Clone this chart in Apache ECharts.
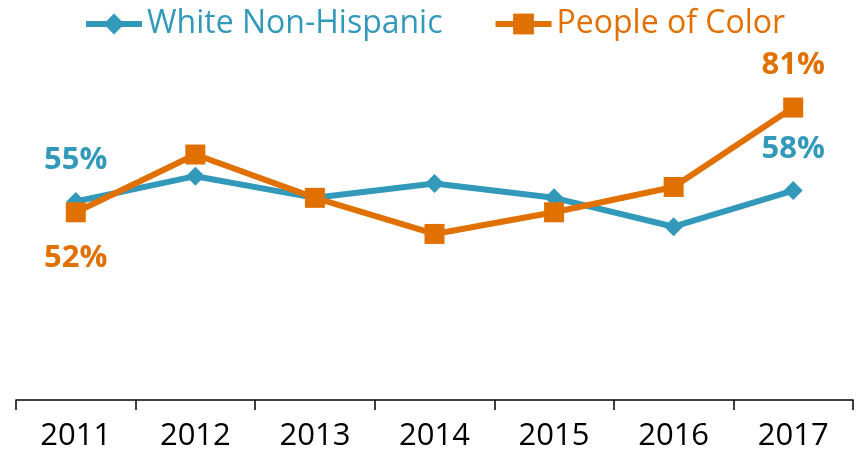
<!DOCTYPE html>
<html>
<head>
<meta charset="utf-8">
<style>
  html, body { margin: 0; padding: 0; background: #ffffff; }
  #chart { width: 856px; height: 464px; }
</style>
<script src="https://cdn.jsdelivr.net/npm/echarts@6/dist/echarts.min.js"></script>
</head>
<body>
<div id="chart"></div>
<script>
// Share of respondents by year, in percent
var years = ['2011', '2012', '2013', '2014', '2015', '2016', '2017'];
var whiteNonHispanic = [55, 62, 56, 60, 56, 48, 58];
var peopleOfColor = [52, 68, 56, 46, 52, 59, 81];

var TEAL = '#3399BA';
var ORANGE = '#E07000';
var FONT = '"Open Sans", "Noto Sans", sans-serif';

// Only the first and last point of each line carry a value label
function withEndLabels(values, color, firstPos, firstDist, lastPos, lastDist) {
  return values.map(function (v, i) {
    if (i !== 0 && i !== values.length - 1) return v;
    var first = i === 0;
    return {
      value: v,
      label: {
        show: true,
        position: first ? firstPos : lastPos,
        distance: first ? firstDist : lastDist,
        formatter: '{c}%',
        color: color,
        fontFamily: FONT,
        fontWeight: 'bold',
        fontSize: 31,
        lineHeight: 30
      }
    };
  });
}

var chart = echarts.init(document.getElementById('chart'));
chart.setOption({
  animation: false,
  backgroundColor: '#ffffff',
  legend: {
    top: 3,
    left: 78,
    itemWidth: 56,
    itemHeight: 26,
    itemGap: 50,
    lineStyle: { width: 6 },
    textStyle: { fontFamily: FONT, fontSize: 32 },
    data: [
      { name: 'White Non-Hispanic', textStyle: { color: TEAL } },
      { name: 'People of Color', textStyle: { color: ORANGE } }
    ]
  },
  grid: { left: 16, right: 3, top: 39, bottom: 64 },
  xAxis: {
    type: 'category',
    data: years,
    boundaryGap: true,
    axisLine: { lineStyle: { color: '#000000', width: 1.5 } },
    axisTick: { show: true, length: 10, lineStyle: { color: '#000000', width: 1.5 } },
    axisLabel: {
      color: '#000000',
      fontFamily: FONT,
      fontSize: 31,
      margin: 21
    },
    splitLine: { show: false }
  },
  yAxis: {
    type: 'value',
    min: 0,
    max: 100,
    show: false,
    splitLine: { show: false }
  },
  series: [
    {
      name: 'White Non-Hispanic',
      type: 'line',
      data: withEndLabels(whiteNonHispanic, TEAL, 'top', 17, 'top', 17),
      symbol: 'diamond',
      symbolSize: 19,
      lineStyle: { color: TEAL, width: 6 },
      itemStyle: { color: TEAL },
      z: 2
    },
    {
      name: 'People of Color',
      type: 'line',
      data: withEndLabels(peopleOfColor, ORANGE, 'bottom', 21, 'top', 17),
      symbol: 'rect',
      symbolSize: 20,
      lineStyle: { color: ORANGE, width: 6 },
      itemStyle: { color: ORANGE },
      z: 3
    }
  ]
});
</script>
</body>
</html>
